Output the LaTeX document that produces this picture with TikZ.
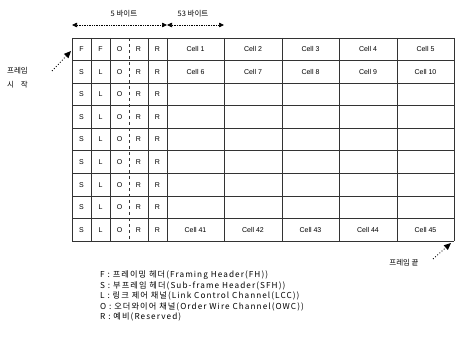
\documentclass[tikz,border=0pt]{standalone}
\usepackage{fontspec}
\setmainfont{Liberation Sans}
\newfontfamily\kr{Noto Sans CJK KR}
\newfontfamily\krw[LetterSpace=13]{Noto Sans CJK KR}
\usetikzlibrary{arrows.meta}
\tikzset{
  grid/.style={line width=0.7pt, draw=black!80},
  byte/.style={font=\fontsize{7}{8}\selectfont, inner sep=0pt},
  celltxt/.style={font=\fontsize{7}{8}\selectfont, inner sep=0pt},
  krlabel/.style={font=\kr\fontsize{7.5}{9}\selectfont, inner sep=0pt},
  legend/.style={font=\krw\fontsize{8.2}{9}\selectfont, inner sep=0pt, anchor=west},
  dimarrow/.style={densely dotted, line width=0.7pt, {Triangle[length=5pt,width=4.5pt]}-{Triangle[length=5pt,width=4.5pt]}},
  ptrarrow/.style={dotted, line width=0.9pt, -{Triangle[length=7pt,width=6pt]}}
}
\begin{document}
\begin{tikzpicture}[x=1pt,y=-1pt]
\useasboundingbox (0,0) rectangle (456,342);
% grid
\def\rowh{22.556}
\foreach \i in {0,...,9}{
  \draw[grid] (72,38+\i*\rowh) -- (454,38+\i*\rowh);
}
\foreach \x in {72,91,110,148,167,224,282,339,397,454}{
  \draw[grid] (\x,38) -- (\x,241);
}
\draw[grid, dashed] (129,38) -- (129,241);
% byte letters
\foreach \l [count=\c from 0] in {F,F,O,R,R}{
  \node[byte] (h0\c) at (81.5+\c*19,49.3) {\l};
}
\foreach \r in {1,...,8}{
  \foreach \l [count=\c from 0] in {S,L,O,R,R}{
    \node[byte] (h\r\c) at (81.5+\c*19,49.3+\r*\rowh) {\l};
  }
}
% cells
\foreach \xc [count=\c from 1] in {195.5,253,310.5,368,425.5}{
  \node[celltxt] (ca\c) at (\xc,49.3) {Cell \c};
  \pgfmathtruncatemacro{\n}{\c+5}
  \node[celltxt] (cb\c) at (\xc,49.3+\rowh) {Cell \n};
  \pgfmathtruncatemacro{\m}{\c+40}
  \node[celltxt] (cc\c) at (\xc,49.3+8*\rowh) {Cell \m};
}
% dimension arrows
\node[krlabel] (lab5) at (124,14) {5 바이트};
\node[krlabel] (lab53) at (193,14) {53 바이트};
\coordinate (d5l) at (72,25);
\coordinate (d5r) at (167,25);
\coordinate (d53r) at (224,25);
\draw[dimarrow] (d5l) -- (d5r);
\draw[dimarrow] (d5r) -- (d53r);
% frame start
\node[krlabel, align=left, anchor=west] (fs) at (7,78) {프레임\\[5pt]시\hspace{0.9em}작};
\coordinate (ps1) at (52,71);
\coordinate (ps2) at (71,51);
\draw[ptrarrow] (ps1) -- (ps2);
% frame end
\node[krlabel] (fe) at (404,263) {프레임 끝};
\coordinate (pe1) at (433,259);
\coordinate (pe2) at (451,243);
\draw[ptrarrow] (pe1) -- (pe2);
% legend
\node[legend] (l1) at (100,275) {F : 프레이밍 헤더(Framing Header(FH))};
\node[legend] (l2) at (100,285.5) {S : 부프레임 헤더(Sub-frame Header(SFH))};
\node[legend] (l3) at (100,296) {L : 링크 제어 채널(Link Control Channel(LCC))};
\node[legend] (l4) at (100,306.5) {O : 오더와이어 채널(Order Wire Channel(OWC))};
\node[legend] (l5) at (100,317) {R : 예비(Reserved)};
\end{tikzpicture}
\end{document}
